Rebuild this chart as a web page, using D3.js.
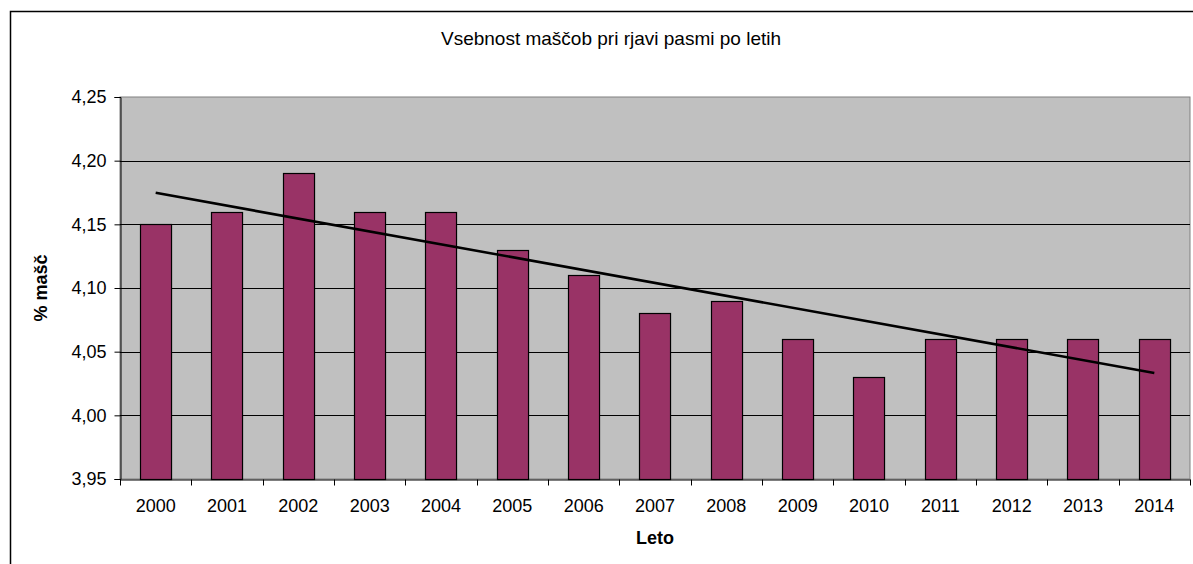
<!DOCTYPE html>
<html>
<head>
<meta charset="utf-8">
<script src="https://cdn.jsdelivr.net/npm/d3@7"></script>
<style>
  body { margin: 0; background: #fff; }
  text { font-family: "Liberation Sans", Arial, sans-serif; fill: #000; }
</style>
</head>
<body>
<div id="chart"></div>
<script>
const width = 1193;
const height = 564;

const years = ["2000", "2001", "2002", "2003", "2004", "2005", "2006", "2007",
    "2008", "2009", "2010", "2011", "2012", "2013", "2014"];
const fat = [4.15, 4.16, 4.19, 4.16, 4.16, 4.13, 4.11, 4.08,
    4.09, 4.06, 4.03, 4.06, 4.06, 4.06, 4.06];
const yTicks = [3.95, 4.00, 4.05, 4.10, 4.15, 4.20, 4.25];

const plot = { left: 120, top: 97, right: 1190, bottom: 479 };

const svg = d3.select("#chart")
    .append("svg")
    .attr("width", width)
    .attr("height", height);

// Outer chart frame
svg.append("rect")
    .attr("x", 10.5)
    .attr("y", 11.5)
    .attr("width", width)
    .attr("height", height)
    .attr("fill", "none")
    .attr("stroke", "#000")
    .attr("stroke-width", 1.5);

const x = d3.scaleBand()
    .domain(years)
    .range([plot.left, plot.right])
    .paddingInner(0.565)
    .paddingOuter(0.2825);

const xCat = d3.scaleBand()
    .domain(years)
    .range([plot.left, plot.right]);

const y = d3.scaleLinear()
    .domain([3.95, 4.25])
    .range([plot.bottom, plot.top]);

// Plot area
svg.append("rect")
    .attr("x", plot.left)
    .attr("y", plot.top)
    .attr("width", plot.right - plot.left)
    .attr("height", plot.bottom - plot.top)
    .attr("fill", "#c0c0c0")
    .attr("stroke", "#808080")
    .attr("stroke-width", 1);

// Gridlines
svg.selectAll(".grid")
    .data(yTicks.slice(1, -1))
    .enter().append("line")
    .attr("x1", plot.left)
    .attr("x2", plot.right)
    .attr("y1", d => Math.round(y(d)) + 0.5)
    .attr("y2", d => Math.round(y(d)) + 0.5)
    .attr("stroke", "#000")
    .attr("stroke-width", 1);

// Bars
svg.selectAll(".bar")
    .data(fat)
    .enter().append("rect")
    .attr("x", (d, i) => Math.round(x(years[i])) + 0.5)
    .attr("y", d => Math.round(y(d)) + 0.5)
    .attr("width", x.bandwidth())
    .attr("height", d => plot.bottom - Math.round(y(d)))
    .attr("fill", "#993366")
    .attr("stroke", "#000")
    .attr("stroke-width", 1.2);

// Y axis
const yAxis = svg.append("g")
    .attr("transform", `translate(${plot.left + 0.5},0)`)
    .call(d3.axisLeft(y)
        .tickValues(yTicks)
        .tickSize(6)
        .tickPadding(8)
        .tickFormat(d => d3.format(".2f")(d).replace(".", ",")));
yAxis.select(".domain").attr("stroke", "#000");
yAxis.selectAll("text").attr("font-size", "18px");

// X axis
const xAxis = svg.append("g")
    .attr("transform", `translate(0,${plot.bottom + 0.5})`)
    .call(d3.axisBottom(xCat).tickSize(0));
xAxis.select(".domain").attr("stroke", "#000");
xAxis.selectAll("text")
    .attr("font-size", "18px")
    .attr("y", 32.5)
    .attr("dy", null);

// Category separator ticks
xAxis.selectAll(".sep")
    .data(years.concat(["end"]))
    .enter().append("line")
    .attr("x1", (d, i) => Math.round(plot.left + i * xCat.step()) + 0.5)
    .attr("x2", (d, i) => Math.round(plot.left + i * xCat.step()) + 0.5)
    .attr("y1", 0)
    .attr("y2", 6)
    .attr("stroke", "#000");

// Linear trendline
const n = fat.length;
const mx = (n - 1) / 2;
const my = d3.mean(fat);
const slope = d3.sum(fat, (v, i) => (i - mx) * (v - my)) / d3.sum(fat, (v, i) => (i - mx) * (i - mx));
const trend = [0, n - 1].map(i => [xCat(years[i]) + xCat.bandwidth() / 2, y(my + slope * (i - mx))]);

svg.append("path")
    .attr("d", d3.line()(trend))
    .attr("fill", "none")
    .attr("stroke", "#000")
    .attr("stroke-width", 2.6);

// Titles
svg.append("text")
    .attr("x", 611)
    .attr("y", 45)
    .attr("text-anchor", "middle")
    .attr("font-size", "19px")
    .text("Vsebnost maščob pri rjavi pasmi po letih");

svg.append("text")
    .attr("x", 655)
    .attr("y", 544)
    .attr("text-anchor", "middle")
    .attr("font-size", "18px")
    .attr("font-weight", "bold")
    .text("Leto");

svg.append("text")
    .attr("transform", "translate(47,288) rotate(-90)")
    .attr("text-anchor", "middle")
    .attr("font-size", "18px")
    .attr("font-weight", "bold")
    .text("% mašč");
</script>
</body>
</html>
